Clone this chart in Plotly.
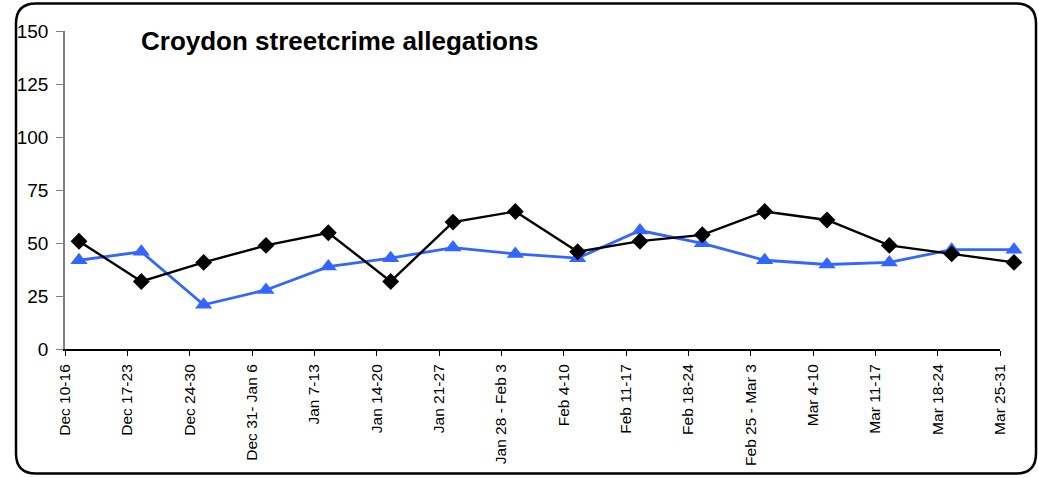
import plotly.graph_objects as go

# ---- data ----
weeks = ["Dec 10-16", "Dec 17-23", "Dec 24-30", "Dec 31- Jan 6", "Jan 7-13",
         "Jan 14-20", "Jan 21-27", "Jan 28 - Feb 3", "Feb 4-10", "Feb 11-17",
         "Feb 18-24", "Feb 25 - Mar 3", "Mar 4-10", "Mar 11-17", "Mar 18-24",
         "Mar 25-31"]
series_black = [51, 32, 41, 49, 55, 32, 60, 65, 46, 51, 54, 65, 61, 49, 45, 41]
series_blue = [42, 46, 21, 28, 39, 43, 48, 45, 43, 56, 50, 42, 40, 41, 47, 47]
y_ticks = [0, 25, 50, 75, 100, 125, 150]
title_text = "Croydon streetcrime allegations"

# ---- layout geometry (pixels) ----
W, H = 1039, 478
ax_left, ax_right = 65, 1000        # x axis line extent
data_right = 1030                    # data subplot right edge
y_bottom, y_top = 349.3, 31.3
step = (ax_right - ax_left) / (len(weeks) - 1)
shift = 14                           # points sit a bit right of ticks

def px(x):
    return x / W

def py(y):
    return 1 - y / H

FONT = "Liberation Sans, Arial, sans-serif"

fig = go.Figure()

# invisible trace so the labelled axes are drawn
fig.add_trace(go.Scatter(
    x=weeks, y=[None] * len(weeks), mode="lines", xaxis="x", yaxis="y",
    showlegend=False, hoverinfo="skip"))

fig.add_trace(go.Scatter(
    x=weeks, y=series_blue, mode="lines+markers", xaxis="x2", yaxis="y2",
    line=dict(color="#3366FF", width=2.8),
    marker=dict(symbol="triangle-up", size=15, color="#3366FF"),
    showlegend=False, cliponaxis=False))
fig.add_trace(go.Scatter(
    x=weeks, y=series_black, mode="lines+markers", xaxis="x2", yaxis="y2",
    line=dict(color="black", width=2.4),
    marker=dict(symbol="diamond", size=13, color="black"),
    showlegend=False, cliponaxis=False))

r0 = -shift / step
r1 = r0 + (data_right - ax_left) / step

fig.update_layout(
    width=W, height=H,
    margin=dict(l=0, r=0, t=0, b=0),
    paper_bgcolor="white", plot_bgcolor="rgba(0,0,0,0)",
    font=dict(family=FONT, color="black"),
    xaxis=dict(
        domain=[px(ax_left), px(ax_right)], anchor="y",
        type="category", categoryorder="array", categoryarray=weeks,
        tickmode="array", tickvals=weeks, ticktext=weeks,
        range=[0, len(weeks) - 1], tickangle=-90,
        showline=True, linecolor="black", linewidth=1.5,
        ticks="outside", ticklen=5, tickcolor="black", tickwidth=1,
        showgrid=False, zeroline=False, automargin=False,
        tickfont=dict(size=15.5, family=FONT, color="black"),
        ticklabelstandoff=2,
        fixedrange=True),
    yaxis=dict(
        domain=[py(y_bottom), py(y_top)], anchor="x",
        range=[0, 150], tickmode="array", tickvals=y_ticks,
        showline=True, linecolor="#808080", linewidth=1.5,
        ticks="outside", ticklen=7, tickcolor="#808080", tickwidth=1,
        showgrid=False, zeroline=False, automargin=False,
        tickfont=dict(size=19, family=FONT, color="black"),
        ticklabelstandoff=4,
        fixedrange=True),
    xaxis2=dict(
        domain=[px(ax_left), px(data_right)], anchor="y2",
        type="category", categoryorder="array", categoryarray=weeks,
        range=[r0, r1], visible=False, fixedrange=True),
    yaxis2=dict(
        domain=[py(y_bottom), py(y_top)], anchor="x2",
        range=[0, 150], visible=False, fixedrange=True),
)

fig.add_annotation(
    text="<b>" + title_text + "</b>", xref="paper", yref="paper",
    x=px(139), y=py(41), xanchor="left", yanchor="middle", showarrow=False,
    font=dict(size=26, family=FONT, color="black"))

# rounded border of chart area
L, R, T, B = 16, 1036, 3.5, 473.5
rad = 20
pts = [
    ("M", [(L + rad, T)]),
    ("L", [(R - rad, T)]),
    ("Q", [(R, T), (R, T + rad)]),
    ("L", [(R, B - rad)]),
    ("Q", [(R, B), (R - rad, B)]),
    ("L", [(L + rad, B)]),
    ("Q", [(L, B), (L, B - rad)]),
    ("L", [(L, T + rad)]),
    ("Q", [(L, T), (L + rad, T)]),
]
path = ""
for cmd, coords in pts:
    path += cmd + " " + " ".join(f"{px(x):.5f},{py(y):.5f}" for x, y in coords) + " "
path += "Z"
fig.add_shape(type="path", path=path, xref="paper", yref="paper",
              line=dict(color="black", width=2.5), layer="above")

fig.write_html("out.html", config={"displayModeBar": False},
               post_script="document.body.style.margin='0';")
